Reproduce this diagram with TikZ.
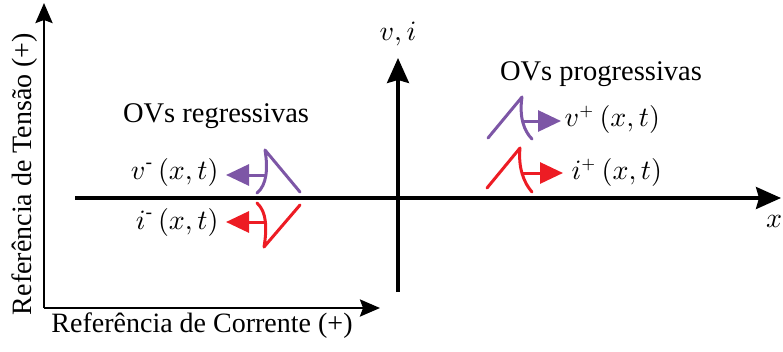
\documentclass[tikz,border=0pt]{standalone}
\usepackage{amsmath}
\usepackage{fontspec}
\setmainfont{Liberation Serif}
\usetikzlibrary{arrows.meta}
\definecolor{wvpurple}{HTML}{7D56A6}
\definecolor{wvred}{HTML}{ED1C24}
\begin{document}
\begin{tikzpicture}[x=1pt,y=-1pt,
  txt/.style={inner sep=0pt,font=\fontsize{28.5}{30}\selectfont},
  mth/.style={inner sep=0pt,font=\fontsize{10}{12}\selectfont,scale=2.8},
  mainax/.style={line width=3.2pt,-{Stealth[length=25pt,width=22pt,inset=3pt]}},
  refax/.style={line width=2.6pt,-{Stealth[length=20pt,width=17pt,inset=3pt]}},
  wave/.style={line width=3pt,line cap=round,line join=round},
  wavearrow/.style={line width=3pt,-{Triangle[length=23pt,width=21pt]}}]
\useasboundingbox (0,0) rectangle (783,351);
% reference axes
\coordinate (o) at (44,308);
\coordinate (rt) at (44,3);
\coordinate (rr) at (380,308);
\draw[refax] (o) -- (rt);
\draw[refax] (o) -- (rr);
\node[txt,rotate=90,font=\fontsize{28}{30}\selectfont] (rv) at (25,174) {Referência de Tensão (+)};
\node[txt,font=\fontsize{28}{30}\selectfont] (ri) at (202,326) {Referência de Corrente (+)};
% main axes
\coordinate (xl) at (75,198);
\coordinate (xr) at (781,198);
\coordinate (yb) at (398,292);
\coordinate (yt) at (398,58);
\draw[mainax] (xl) -- (xr);
\draw[mainax] (yb) -- (yt);
\node[mth] (vi) at (398,34) {$v,i$};
\node[mth] (xx) at (774,221) {$x$};
% titles
\node[txt] (ovr) at (216,116) {OVs regressivas};
\node[txt] (ovp) at (601,74) {OVs progressivas};
% regressive voltage
\coordinate (rvA) at (300,192);
\coordinate (rvP) at (265,150);
\coordinate (rvB) at (257,193);
\coordinate (rvS) at (266,175);
\draw[wave,wvpurple] (rvA) -- (rvP) .. controls (268,168) and (267,185) .. (rvB);
\node[mth,anchor=east] (lv) at (219,172) {$v^{\text{-}}\,(x,t)$};
\draw[wavearrow,wvpurple] (rvS) -- (226,175);
% regressive current
\coordinate (riA) at (300,205);
\coordinate (riP) at (264,247);
\coordinate (riB) at (257,203);
\coordinate (riS) at (266,222);
\draw[wave,wvred] (riA) -- (riP) .. controls (267,229) and (267,212) .. (riB);
\node[mth,anchor=east] (li) at (219,222) {$i^{\text{-}}\,(x,t)$};
\draw[wavearrow,wvred] (riS) -- (226,222);
% progressive voltage
\coordinate (pvA) at (488,138);
\coordinate (pvP) at (522,97);
\coordinate (pvB) at (532,139);
\coordinate (pvS) at (522,121);
\draw[wave,wvpurple] (pvA) -- (pvP) .. controls (519,117) and (524,131) .. (pvB);
\node[mth,anchor=west] (rvl) at (564,119) {$v^{\scriptscriptstyle +}\,(x,t)$};
\draw[wavearrow,wvpurple] (pvS) -- (561,121);
% progressive current
\coordinate (piA) at (487,188);
\coordinate (piP) at (520,148);
\coordinate (piB) at (532,192);
\coordinate (piS) at (522,173);
\draw[wave,wvred] (piA) -- (piP) .. controls (518,168) and (524,183) .. (piB);
\node[mth,anchor=west] (ril) at (571,172) {$i^{\scriptscriptstyle +}\,(x,t)$};
\draw[wavearrow,wvred] (piS) -- (563,173);
\end{tikzpicture}
\end{document}
